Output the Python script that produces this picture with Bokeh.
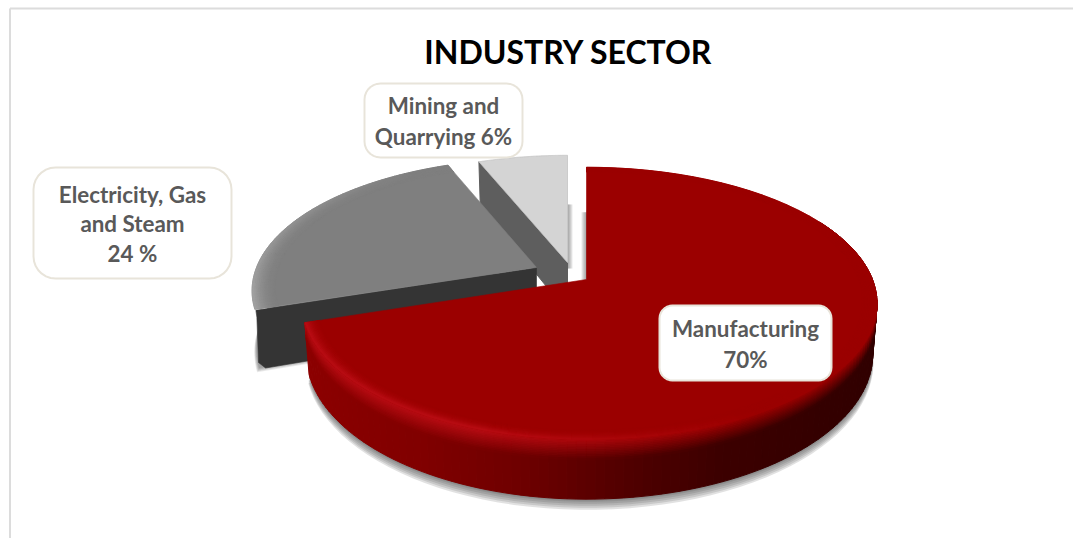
import numpy as np
from bokeh.core.properties import value
from bokeh.embed import file_html
from bokeh.models import Range1d
from bokeh.plotting import figure
from bokeh.resources import INLINE

# Chart content
title = "INDUSTRY SECTOR"
sectors = ["Manufacturing", "Electricity, Gas and Steam", "Mining and Quarrying"]
shares = [70, 24, 6]
label_lines = [["Manufacturing", "70%"],
               ["Electricity, Gas", "and Steam", "24 %"],
               ["Mining and", "Quarrying 6%"]]

# Pie projection: a disc seen in perspective, with each slice pulled out to its own apex
RADIUS_RIGHT, RADIUS_LEFT, RADIUS_Y, PERSPECTIVE = 286.0, 280.0, 132.0, 0.176
DEPTH_TAPER = 0.0003
apexes = [(586.0, 279.0, 1.0), (536.0, 267.0, 0.97), (567.0, 262.0, 0.955)]
depths = [49.0, 55.0, 50.0]
top_colours = ["#9b0000", "#7f7f7f", "#d4d4d4"]
cut_colours = [None, "#343434", "#5e5e5e"]
label_boxes = [(659, 305, 831, 380, 13, "#ffffff"),
               (33, 167, 231, 278, 22, "#ffffff"),
               (364, 83, 522, 157, 16, "#ffffff")]
label_line_y = [[328, 359], [194, 223, 253], [105, 136]]
FRAME = "#dcdcdc"
BOX_EDGE = "#e8e4da"
TEXT = "#595959"


def hex_rgb(c):
    return np.array([int(c[i:i + 2], 16) for i in (1, 3, 5)], dtype=float)


def mix(a, b, t):
    t = float(np.clip(t, 0, 1))
    r = hex_rgb(a) * (1 - t) + hex_rgb(b) * t
    return "#%02x%02x%02x" % tuple(int(round(v)) for v in r)


def project(theta, r, apex, depth=0.0):
    """Map a disc point (clockwise degrees from 12 o'clock, radius 0..1) to the page."""
    t = np.radians(theta)
    u, v = r * np.sin(t), r * np.cos(t)
    w = 1 + PERSPECTIVE * v
    rx = np.where(u > 0, RADIUS_RIGHT, RADIUS_LEFT) * (1 - DEPTH_TAPER * depth)
    return apex[0] + rx * u / w, apex[1] - RADIUS_Y * apex[2] * v / w + depth / w


def wedge(a0, a1, apex, depth=0.0, r=1.0, n=90):
    th = np.linspace(a0, a1, n)
    x, y = project(th, r, apex, depth)
    return [apex[0], *x], [apex[1] + depth, *y]


def rounded(x0, y0, x1, y1, r, n=8):
    xs, ys = [], []
    for cx, cy, a in ((x1 - r, y0 + r, -90), (x1 - r, y1 - r, 0), (x0 + r, y1 - r, 90), (x0 + r, y0 + r, 180)):
        t = np.radians(np.linspace(a, a + 90, n))
        xs += list(cx + r * np.cos(t))
        ys += list(cy + r * np.sin(t))
    return xs, ys


def red_side(x):
    stops_x = [304, 420, 520, 640, 720, 877]
    stops = ["#8c0000", "#800000", "#6e0000", "#4d0000", "#3c0000", "#300000"]
    i = int(np.clip(np.searchsorted(stops_x, x) - 1, 0, len(stops) - 2))
    return mix(stops[i], stops[i + 1], (x - stops_x[i]) / (stops_x[i + 1] - stops_x[i]))


def red_glow(theta):
    # rim highlight along the front-left of the large slice
    return float(np.clip((theta - 150) / 50, 0, 1)) * 0.6


def grey_glow(theta):
    return float(np.clip((330 - theta) / 70, 0, 1)) * 0.8


p = figure(width=1073, height=538, output_backend="svg", toolbar_location=None,
           x_range=Range1d(0, 1073), y_range=Range1d(538, 0), min_border=0,
           x_axis_type=None, y_axis_type=None, outline_line_color=None,
           background_fill_color="#ffffff", border_fill_color="#ffffff")
p.grid.visible = False

# Frame around the plot area (open on the right and the bottom)
p.line([9.5, 9.5], [538, 8], line_color=FRAME, line_width=2)
p.line([9.5, 1073], [8, 8], line_color=FRAME, line_width=2)

# Slice angles follow the shares, clockwise from 12 o'clock
edges = np.cumsum([0] + shares) * 3.6
spans = list(zip(edges[:-1], edges[1:]))

# Soft drop shadows under the lower edges
for s in (8, 6.5, 5, 3.5, 2, 1):
    a0, a1 = spans[0]
    x, y = wedge(a0, a1, apexes[0], depths[0] + s, r=1 + s * 0.0006)
    p.patch(x, y, fill_color="#505050", fill_alpha=0.17, line_color=None)
    a0, a1 = spans[1]
    x, y = wedge(a0, a1, apexes[1], depths[1] + s * 0.5, r=1 + s * 0.0012)
    p.patch(x, y, fill_color="#505050", fill_alpha=0.12, line_color=None)

# Narrow shadows beside the straight 12 o'clock edges
for idx, reach, sign in ((2, 0.50, 1), (0, 0.56, -1)):
    ax, ay = apexes[idx][:2]
    _, ytop = project(0, reach, apexes[idx])
    for off in (1, 2, 3, 4, 5):
        p.patch([ax, ax + sign * off, ax + sign * off, ax], [ytop, ytop, ay + 6, ay + 6],
                fill_color="#555555", fill_alpha=0.13, line_color=None)


def draw_top(a0, a1, apex, colour, glow_colour, glow, bands=10, width=0.05):
    x, y = wedge(a0, a1, apex)
    p.patch(x, y, fill_color=colour, line_color=colour, line_width=0.6)
    th = np.linspace(a0, a1, 70)
    xs, ys, cs = [], [], []
    for b in range(bands):
        r0 = 1 - width * (1 - b / bands)
        r1 = 1 - width * (1 - (b + 1) / bands)
        for t0, t1 in zip(th[:-1], th[1:]):
            x0, y0 = project(np.array([t0, t1]), r0, apex)
            x1, y1 = project(np.array([t1, t0]), r1, apex)
            xs.append([*x0, *x1])
            ys.append([*y0, *y1])
            cs.append(mix(colour, glow_colour, glow((t0 + t1) / 2) * ((b + 1) / bands) ** 2))
    p.patches(xs, ys, fill_color=cs, line_color=cs, line_width=0.8)


# Mining and Quarrying: cut face, then top
a0, a1 = spans[2]
ap, d = apexes[2], depths[2]
rx, ry = project(a0, 1, ap)
rx2, ry2 = project(a0, 1, ap, d)
p.patch([ap[0], rx, rx2, ap[0]], [ap[1], ry, ry2, ap[1] + d],
        fill_color=cut_colours[2], line_color=cut_colours[2])
x, y = wedge(a0, a1, ap)
p.patch(x, y, fill_color=top_colours[2], line_color="#c4c4c4", line_width=0.8)

# Electricity, Gas and Steam: cut face with a rounded outer corner, then top
a0, a1 = spans[1]
ap, d = apexes[1], depths[1]
rx, ry = project(a0, 1, ap)
rx2, ry2 = project(a0, 1, ap, d)
fx = [ap[0], rx + 1, rx + 2, rx2 - 1, rx2 + 6, ap[0]]
fy = [ap[1], ry + 1, ry + 8, ry2 - 5, ry2 + 0.5, ap[1] + d]
p.patch(fx, fy, fill_color=cut_colours[1], line_color=cut_colours[1], line_width=0.6)
draw_top(a0, a1, ap, top_colours[1], "#a8a8a8", grey_glow, bands=12, width=0.08)

# Manufacturing: curved side as full-height colour columns, shaded towards the rim
a0, a1 = spans[0]
ap, d = apexes[0], depths[0]
th = np.linspace(62, a1, 120)
levels = 12
rim_share = 0.34
cx, cy, cc = [], [], []
bx, by, bc = [], [], []
for t0, t1 in zip(th[:-1], th[1:]):
    mid_x, _ = project((t0 + t1) / 2, 1, ap)
    base = red_side(mid_x)
    rim = mix(top_colours[0], "#cc1420", red_glow((t0 + t1) / 2))
    x0, y0 = project(np.array([t0, t1]), 1, ap, 0.0)
    x1, y1 = project(np.array([t1, t0]), 1, ap, d)
    cx.append([*x0, *x1])
    cy.append([*y0, *y1])
    cc.append(base)
    for b in range(levels):
        d0, d1 = d * rim_share * b / levels, d * rim_share * (b + 1) / levels
        x0, y0 = project(np.array([t0, t1]), 1, ap, d0)
        x1, y1 = project(np.array([t1, t0]), 1, ap, d1)
        bx.append([*x0, *x1])
        by.append([*y0, *y1])
        bc.append(mix(rim, base, (b + 0.5) / levels))
p.patches(cx, cy, fill_color=cc, line_color=cc, line_width=1)
p.patches(bx, by, fill_color=bc, line_color=bc, line_width=1)
draw_top(a0, a1, ap, top_colours[0], "#cc1420", red_glow)

# Label boxes and their texts
for (x0, y0, x1, y1, r, fill), lines, line_y in zip(label_boxes, label_lines, label_line_y):
    bx0, by0 = rounded(x0, y0, x1, y1, r)
    p.patch(bx0, by0, fill_color=fill, line_color=BOX_EDGE, line_width=2)
    p.text([(x0 + x1) / 2] * len(lines), line_y, text=lines, text_color=TEXT,
           text_font=value("Lato"), text_font_style="bold", text_font_size="22.4px",
           text_align="center", text_baseline="middle")

p.text([568], [50.5], text=[title], text_color="#000000", text_font=value("Lato"),
       text_font_style="bold", text_font_size="32px", text_align="center", text_baseline="middle")

open("out.html", "w").write(file_html(p, INLINE))
